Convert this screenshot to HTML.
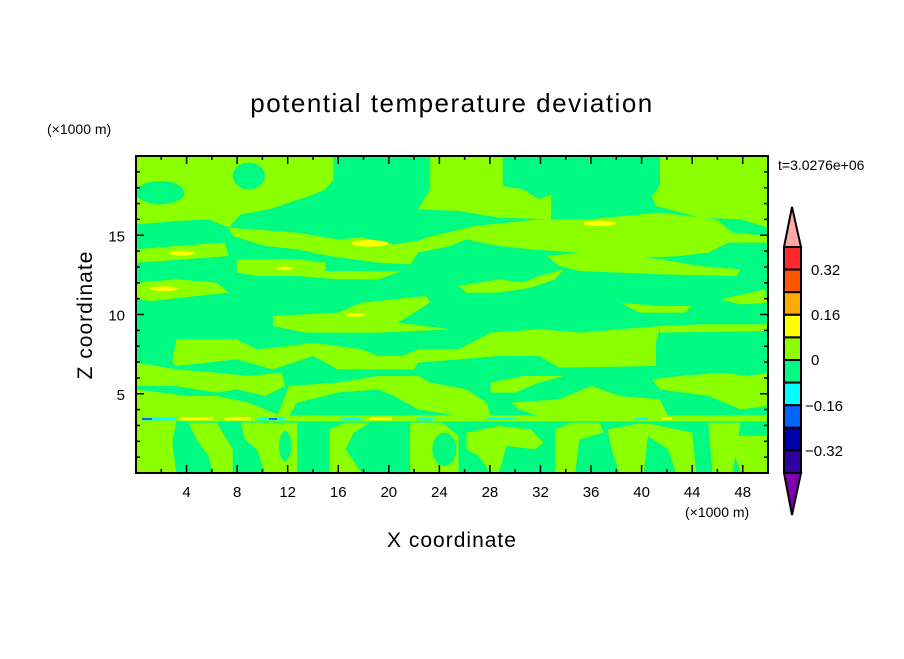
<!DOCTYPE html>
<html><head><meta charset="utf-8"><style>
body{margin:0;background:#fff;}
svg text{font-family:"Liberation Sans",sans-serif;fill:#000;}
</style></head><body>
<svg id="s" width="904" height="654" viewBox="0 0 904 654" xmlns="http://www.w3.org/2000/svg">
<rect width="904" height="654" fill="#fff"/>
<text x="452" y="112" font-size="26" text-anchor="middle" letter-spacing="1.5">potential temperature deviation</text>
<text x="47" y="134" font-size="14">(×1000 m)</text>
<text x="778" y="170" font-size="14">t=3.0276e+06</text>
<text x="685" y="517" font-size="14">(×1000 m)</text>
<text x="452" y="547" font-size="21" text-anchor="middle" letter-spacing="1">X coordinate</text>
<text transform="translate(92,315) rotate(-90)" font-size="21" text-anchor="middle" letter-spacing="1">Z coordinate</text>
<svg x="136" y="156" width="632" height="317" viewBox="0 0 1568 951" preserveAspectRatio="none">
<rect width="1568" height="951" fill="#00fa82"/>
<g fill="#8cff00">
<path d="M0,0 H490 V70 L470,100 L430,120 L380,140 L330,160 L260,175 L240,200 L230,215 L180,190 L100,195 L0,205 Z"/>
<path d="M730,0 H910 V90 L960,100 L1000,130 L1030,115 L1030,190 L900,185 L800,165 L700,160 L730,100 Z"/>
<path d="M1300,0 H1568 V215 L1500,190 L1400,185 L1290,150 L1280,120 L1300,90 Z"/>
<path d="M230,215 L400,230 L500,250 L560,245 L640,265 L700,255 L720,245 L840,210 L1000,190 L1120,190 L1300,170 L1440,190 L1480,230 L1568,240 V260 L1470,260 L1420,290 L1350,300 L1200,310 L1100,290 L980,280 L900,270 L820,250 L780,270 L700,290 L680,325 L600,320 L480,300 L400,280 L320,270 L240,240 Z"/>
<path d="M0,280 L100,270 L220,260 L230,300 L120,310 L0,320 Z"/>
<path d="M250,310 L400,310 L470,320 L470,345 L660,345 L600,370 L500,370 L400,360 L300,360 L250,350 Z"/>
<path d="M0,380 L100,370 L200,380 L230,410 L150,420 L40,435 L0,430 Z"/>
<path d="M1020,300 L1100,290 L1300,310 L1400,330 L1500,340 L1490,360 L1300,355 L1200,350 L1100,345 L1050,330 Z"/>
<path d="M800,390 L900,370 L960,380 L1000,360 L1060,340 L1040,370 L980,395 L900,410 L820,410 Z"/>
<path d="M340,480 L500,470 L560,440 L720,420 L730,440 L650,500 L780,520 L600,530 L420,530 L340,510 Z"/>
<path d="M1200,440 L1300,450 L1380,450 L1360,470 L1250,470 Z"/>
<path d="M1450,430 L1560,400 L1568,440 L1500,445 Z"/>
<path d="M100,550 L250,550 L300,580 L380,570 L440,560 L560,580 L600,600 L660,600 L700,580 L800,580 L880,530 L1000,520 L1100,530 L1200,520 L1300,510 L1290,560 L1290,630 L1050,635 L1000,600 L900,600 L800,610 L700,620 L690,640 L600,640 L500,640 L440,600 L340,640 L250,610 L100,630 L90,620 Z"/>
<path d="M1300,510 L1400,505 L1568,505 V525 L1300,530 Z"/>
<path d="M0,620 L100,640 L200,650 L280,660 L360,650 L370,690 L320,720 L250,700 L200,710 L100,690 L0,690 Z"/>
<path d="M380,690 L500,680 L600,660 L700,660 L730,680 L820,700 L870,740 L880,780 L800,780 L700,760 L640,720 L600,700 L500,710 L400,740 L380,780 L350,780 Z"/>
<path d="M880,680 L960,660 L1060,660 L1000,680 L940,710 L880,710 Z"/>
<path d="M1280,670 L1350,660 L1450,650 L1520,660 L1568,650 V750 L1500,760 L1420,720 L1300,700 Z"/>
<path d="M930,740 L1050,730 L1130,690 L1200,720 L1300,730 L1320,780 L1000,780 L950,760 Z"/>
<path d="M0,700 L130,720 L200,720 L280,740 L360,780 L0,780 Z"/>
<rect x="0" y="778" width="1568" height="18"/>
<path d="M0,795 H100 L90,860 L100,951 H0 Z"/>
<path d="M130,800 L200,800 L240,880 L240,951 L190,951 L180,900 L150,850 Z"/>
<path d="M260,800 L400,800 L400,951 L320,951 L300,880 L270,850 Z"/>
<path d="M480,820 L520,800 L580,800 L540,830 L520,880 L560,951 L480,951 Z"/>
<path d="M680,800 L760,800 L800,840 L800,951 L680,951 Z"/>
<path d="M820,830 L900,810 L980,820 L1010,860 L990,880 L920,870 L900,951 L880,951 L850,900 L820,880 Z"/>
<path d="M1040,820 L1080,800 L1150,800 L1160,830 L1100,850 L1090,951 L1040,951 Z"/>
<path d="M1170,820 L1260,800 L1380,830 L1390,951 L1340,951 L1320,880 L1270,840 L1260,951 L1200,951 L1180,880 Z"/>
<path d="M1420,800 L1500,800 L1480,951 L1430,951 Z"/>
<path d="M1470,840 L1568,840 V951 H1500 Z"/>
</g>
<g fill="#00fa82">
<ellipse cx="370" cy="870" rx="15" ry="45"/>
<ellipse cx="765" cy="880" rx="30" ry="50"/>
<ellipse cx="60" cy="110" rx="60" ry="35"/>
<ellipse cx="280" cy="60" rx="40" ry="40"/>
</g>
<g fill="#ffff00">
<ellipse cx="580" cy="262" rx="45" ry="10"/>
<ellipse cx="1150" cy="202" rx="40" ry="8"/>
<ellipse cx="115" cy="292" rx="30" ry="7"/>
<ellipse cx="70" cy="398" rx="35" ry="7"/>
<ellipse cx="370" cy="337" rx="20" ry="5"/>
<ellipse cx="545" cy="477" rx="25" ry="5"/>
<rect x="110" y="783" width="80" height="10"/><rect x="220" y="783" width="65" height="10"/>
<rect x="580" y="783" width="55" height="10"/><rect x="1305" y="783" width="25" height="8"/>
</g>
<g fill="#00ffff">
<rect x="15" y="785" width="85" height="8"/><rect x="300" y="785" width="70" height="8"/>
<rect x="510" y="785" width="50" height="8"/><rect x="700" y="785" width="40" height="8"/>
<rect x="870" y="786" width="70" height="6"/><rect x="1240" y="786" width="30" height="6"/>
</g>
<g fill="#0064ff"><rect x="15" y="786" width="25" height="6"/><rect x="330" y="786" width="20" height="6"/></g>
</svg>
<rect x="136" y="156" width="632" height="317" fill="none" stroke="#000" stroke-width="2"/>
<g id="ticks" stroke="#000" stroke-width="1.5"></g>
<g id="lbl" font-size="15"></g>
<g stroke="#000" stroke-width="2">
<polygon points="792,207 784,247 801,247" fill="#ffa8a8"/>
<polygon points="792,515 784,473 801,473" fill="#8000b0"/>
</g>
<g id="cb" stroke="#000" stroke-width="2"></g>
<g font-size="15">
<text x="811" y="275">0.32</text>
<text x="811" y="320">0.16</text>
<text x="811" y="365">0</text>
<text x="805" y="411">−0.16</text>
<text x="805" y="456">−0.32</text>
</g>
</svg>
<script>
var ns="http://www.w3.org/2000/svg",t=document.getElementById("ticks"),l=document.getElementById("lbl");
function ln(a,b,c,d){var e=document.createElementNS(ns,"line");e.setAttribute("x1",a);e.setAttribute("y1",b);e.setAttribute("x2",c);e.setAttribute("y2",d);t.appendChild(e);}
function tx(x,y,s,a){var e=document.createElementNS(ns,"text");e.setAttribute("x",x);e.setAttribute("y",y);e.setAttribute("text-anchor",a);e.textContent=s;l.appendChild(e);}
for(var i=2;i<50;i+=2){var x=136+i*12.64,L=(i%4==0)?8:4;ln(x,473,x,473-L);ln(x,156,x,156+L);if(i%4==0)tx(x,497,i,"middle");}
for(var j=1;j<20;j++){var y=473-j*15.85,L=(j%5==0)?8:4;ln(136,y,136+L,y);ln(768,y,768-L,y);if(j%5==0)tx(125,y+6,j,"end");}
var cols=["#ff2a2a","#ff5500","#ffaa00","#ffff00","#8cff00","#00fa82","#00ffff","#0064ff","#0000aa","#3000a0"],cb=document.getElementById("cb");
for(var k=0;k<10;k++){var r=document.createElementNS(ns,"rect");r.setAttribute("x",784);r.setAttribute("y",247+k*22.6);r.setAttribute("width",17);r.setAttribute("height",22.6);r.setAttribute("fill",cols[k]);cb.appendChild(r);}
</script>
</body></html>
